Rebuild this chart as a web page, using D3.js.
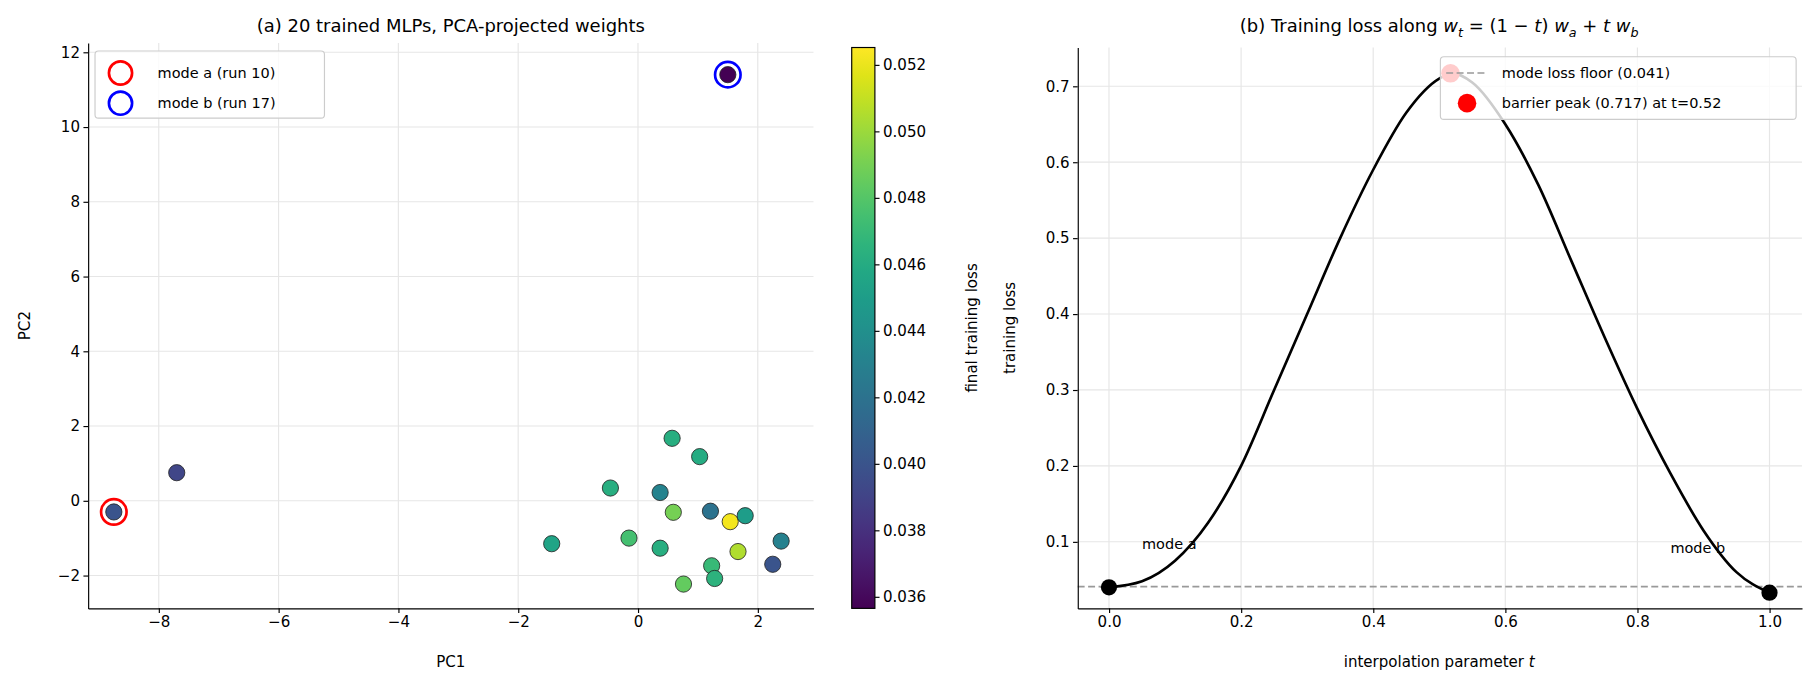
<!DOCTYPE html><html><head><meta charset="utf-8">
<script src="https://cdn.jsdelivr.net/npm/d3@7"></script>
<style>body{margin:0;background:#fff}text{font-family:"DejaVu Sans",sans-serif}</style></head><body>
<svg id="c" width="1817" height="692"></svg>
<script>
const pc1=[-8.75,-7.7,1.5,-1.44,-0.46,-0.15,0.37,0.37,0.57,0.59,1.03,1.21,0.76,1.23,1.28,1.54,1.67,1.79,2.25,2.39];
const pc2=[-0.3,0.75,11.4,-1.15,0.34,-1.0,0.22,-1.27,1.67,-0.31,1.18,-0.28,-2.23,-1.74,-2.08,-0.56,-1.36,-0.4,-1.7,-1.08];
const loss=[0.0400,0.0392,0.0357,0.0455,0.0462,0.0475,0.0432,0.0462,0.0462,0.0490,0.0460,0.0420,0.0485,0.0470,0.0465,0.0522,0.0505,0.0450,0.0400,0.0430];
const tVals=[0,0.05,0.1,0.15,0.2,0.25,0.3,0.35,0.4,0.45,0.5,0.52,0.55,0.6,0.65,0.7,0.75,0.8,0.85,0.9,0.95,1];
const lossPath=[0.04,0.048,0.075,0.125,0.2,0.3,0.4,0.5,0.59,0.665,0.71,0.717,0.705,0.65,0.57,0.47,0.37,0.275,0.19,0.115,0.06,0.033];
const xTicksA=[-8,-6,-4,-2,0,2], yTicksA=[-2,0,2,4,6,8,10,12];
const cbTicks=[0.036,0.038,0.040,0.042,0.044,0.046,0.048,0.050,0.052];
const xTicksB=[0,0.2,0.4,0.6,0.8,1.0], yTicksB=[0.1,0.2,0.3,0.4,0.5,0.6,0.7];
const floor=0.041, peakT=0.517, peakL=0.717;
const svg0=d3.select("#c");
const svg=svg0.append("g").attr("transform",`scale(${1817/1568})`);
const minus=s=>String(s).replace("-","−");
const TF=13;
function axes(g,x,y,xt,yt,xf,yf,L,R,T,B){
  g.append("g").selectAll("line").data(xt).join("line").attr("x1",x).attr("x2",x).attr("y1",T).attr("y2",B).attr("stroke","#e6e6e6");
  g.append("g").selectAll("line").data(yt).join("line").attr("y1",y).attr("y2",y).attr("x1",L).attr("x2",R).attr("stroke","#e6e6e6");
}
function frame(g,x,y,xt,yt,xf,yf,L,B){
  g.append("g").attr("transform",`translate(0,${B})`).call(d3.axisBottom(x).tickValues(xt).tickFormat(xf).tickSize(4).tickSizeOuter(0)).call(a=>a.selectAll("text").attr("font-size",TF).attr("font-family","DejaVu Sans")).call(a=>a.select(".domain").attr("stroke","#000").attr("stroke-width",1));
  g.append("g").attr("transform",`translate(${L},0)`).call(d3.axisLeft(y).tickValues(yt).tickFormat(yf).tickSize(4).tickSizeOuter(0)).call(a=>a.selectAll("text").attr("font-size",TF).attr("font-family","DejaVu Sans")).call(a=>a.select(".domain").attr("stroke","#000").attr("stroke-width",1));
}
// Panel A
const xa=d3.scaleLinear().domain([-9.18,2.93]).range([76,702]);
const ya=d3.scaleLinear().domain([-2.88,12.25]).range([525,37]);
const col=d3.scaleSequential(d3.interpolateViridis).domain([0.03565,0.05252]);
const ga=svg.append("g");
axes(ga,xa,ya,xTicksA,yTicksA,null,null,76,702,37,525);
ga.selectAll("circle.p").data(pc1).join("circle").attr("cx",d=>xa(d)).attr("cy",(d,i)=>ya(pc2[i])).attr("r",7).attr("fill",(d,i)=>col(loss[i])).attr("stroke","#222").attr("stroke-width",0.7);
ga.append("circle").attr("cx",xa(pc1[0])).attr("cy",ya(pc2[0])).attr("r",11).attr("fill","none").attr("stroke","red").attr("stroke-width",2.3);
ga.append("circle").attr("cx",xa(pc1[2])).attr("cy",ya(pc2[2])).attr("r",11).attr("fill","none").attr("stroke","blue").attr("stroke-width",2.3);
frame(ga,xa,ya,xTicksA,yTicksA,d=>minus(d),d=>minus(d),76,525);
ga.append("text").attr("x",389).attr("y",28).attr("text-anchor","middle").attr("font-size",15.5).text("(a) 20 trained MLPs, PCA-projected weights");
ga.append("text").attr("x",389).attr("y",576).attr("text-anchor","middle").attr("font-size",TF).text("PC1");
ga.append("text").attr("transform","translate(26,281) rotate(-90)").attr("text-anchor","middle").attr("font-size",TF).text("PC2");
const la=ga.append("g");
la.append("rect").attr("x",82).attr("y",44).attr("width",198).attr("height",58).attr("rx",3).attr("fill","#fff").attr("fill-opacity",0.8).attr("stroke","#ccc");
[["red","mode a (run 10)"],["blue","mode b (run 17)"]].forEach((d,i)=>{
  la.append("circle").attr("cx",104).attr("cy",63+i*26).attr("r",10).attr("fill","none").attr("stroke",d[0]).attr("stroke-width",2.3);
  la.append("text").attr("x",136).attr("y",67+i*26).attr("font-size",12.5).text(d[1]);
});
// colorbar
const cy=d3.scaleLinear().domain([0.03565,0.05252]).range([525,41]);
const defs=svg.append("defs");const lg=defs.append("linearGradient").attr("id","vg").attr("x1",0).attr("x2",0).attr("y1",1).attr("y2",0);
d3.range(0,1.01,0.05).forEach(s=>lg.append("stop").attr("offset",s).attr("stop-color",d3.interpolateViridis(s)));
svg.append("rect").attr("x",735).attr("y",41).attr("width",20).attr("height",484).attr("fill","url(#vg)").attr("stroke","#000").attr("stroke-width",1);
svg.append("g").attr("transform","translate(755,0)").call(d3.axisRight(cy).tickValues(cbTicks).tickFormat(d3.format(".3f")).tickSize(4).tickSizeOuter(0)).call(a=>a.select(".domain").remove()).call(a=>a.selectAll("text").attr("font-size",TF).attr("font-family","DejaVu Sans"));
svg.append("text").attr("transform","translate(843,283) rotate(-90)").attr("text-anchor","middle").attr("font-size",TF).text("final training loss");
// Panel B
const xb=d3.scaleLinear().domain([-0.0474,1.0491]).range([930,1555]);
const yb=d3.scaleLinear().domain([0.0123,0.751]).range([525,41]);
const gb=svg.append("g");
axes(gb,xb,yb,xTicksB,yTicksB,null,null,930,1555,41,525);
gb.append("line").attr("x1",930).attr("x2",1555).attr("y1",yb(floor)).attr("y2",yb(floor)).attr("stroke","#999").attr("stroke-width",1.5).attr("stroke-dasharray","6,3");
gb.append("path").datum(tVals).attr("d",d3.line().x(d=>xb(d)).y((d,i)=>yb(lossPath[i])).curve(d3.curveMonotoneX)).attr("fill","none").attr("stroke","#000").attr("stroke-width",2.3);
gb.append("circle").attr("cx",xb(0)).attr("cy",yb(lossPath[0])).attr("r",7).attr("fill","#000");
gb.append("circle").attr("cx",xb(1)).attr("cy",yb(lossPath[lossPath.length-1])).attr("r",7).attr("fill","#000");
gb.append("circle").attr("cx",xb(peakT)).attr("cy",yb(peakL)).attr("r",8).attr("fill","red");
gb.append("text").attr("x",xb(0.05)).attr("y",yb(0.09)).attr("font-size",12.5).text("mode a");
gb.append("text").attr("x",xb(0.85)).attr("y",yb(0.085)).attr("font-size",12.5).text("mode b");
frame(gb,xb,yb,xTicksB,yTicksB,d3.format(".1f"),d3.format(".1f"),930,525);
const lb=gb.append("g");
lb.append("rect").attr("x",1243).attr("y",49).attr("width",307).attr("height",54).attr("rx",3).attr("fill","#fff").attr("fill-opacity",0.8).attr("stroke","#ccc");
lb.append("line").attr("x1",1248).attr("x2",1284).attr("y1",63).attr("y2",63).attr("stroke","#999").attr("stroke-width",1.5).attr("stroke-dasharray","6,3");
lb.append("circle").attr("cx",1266).attr("cy",89).attr("r",8).attr("fill","red");
lb.append("text").attr("x",1296).attr("y",67).attr("font-size",12.5).text("mode loss floor (0.041)");
lb.append("text").attr("x",1296).attr("y",93).attr("font-size",12.5).text("barrier peak (0.717) at t=0.52");
const tt=gb.append("text").attr("x",1242).attr("y",28).attr("text-anchor","middle").attr("font-size",15.5);
tt.append("tspan").text("(b) Training loss along ");
tt.append("tspan").attr("font-style","italic").text("w");tt.append("tspan").attr("font-style","italic").attr("font-size",11).attr("dy",4).text("t");
tt.append("tspan").attr("dy",-4).text(" = (1 − ");tt.append("tspan").attr("font-style","italic").text("t");
tt.append("tspan").text(") ");tt.append("tspan").attr("font-style","italic").text("w");tt.append("tspan").attr("font-style","italic").attr("font-size",11).attr("dy",4).text("a");
tt.append("tspan").attr("dy",-4).text(" + ");tt.append("tspan").attr("font-style","italic").text("t w");tt.append("tspan").attr("font-style","italic").attr("font-size",11).attr("dy",4).text("b");
const xl=gb.append("text").attr("x",1242).attr("y",576).attr("text-anchor","middle").attr("font-size",TF);
xl.append("tspan").text("interpolation parameter ");xl.append("tspan").attr("font-style","italic").text("t");
gb.append("text").attr("transform","translate(876,283) rotate(-90)").attr("text-anchor","middle").attr("font-size",TF).text("training loss");
svg.selectAll(".tick line").attr("stroke","#000");
</script></body></html>
